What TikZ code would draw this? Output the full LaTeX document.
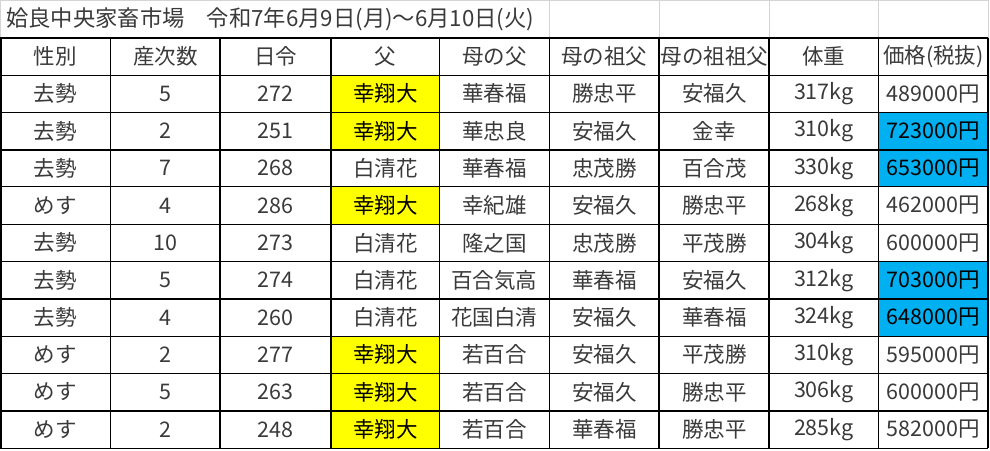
\documentclass[tikz,border=0pt]{standalone}
\usepackage{fontspec}
\setmainfont{Noto Sans CJK JP}
\definecolor{txt}{HTML}{3A3A3A}
\definecolor{ylw}{HTML}{FFFF00}
\definecolor{blu}{HTML}{00B0F0}
\definecolor{grd}{HTML}{D4D4D4}
\tikzset{
  cell/.style={inner sep=0pt, font=\fontsize{21.5}{24}\selectfont, text=txt, anchor=center},
  thinline/.style={draw=black, line width=1pt},
  thickline/.style={draw=black, line width=2pt},
  gridline/.style={draw=grd, line width=1pt},
}
\begin{document}
\begin{tikzpicture}[x=1pt,y=-1pt]
\useasboundingbox (0,0) rectangle (990,450);
\fill[white] (0,0) rectangle (990,450);
% fills
\foreach \r in {1,2,4,8,9,10}{
  \fill[ylw] (331,{37.7+\r*37.3}) rectangle (439.5,{37.7+(\r+1)*37.3});
}
\foreach \r in {2,3,6,7}{
  \fill[blu] (878.3,{37.7+\r*37.3}) rectangle (988.3,{37.7+(\r+1)*37.3});
}
% title row grid
\draw[gridline] (0,0.5) -- (988.3,0.5);
\draw[gridline] (0.5,0) -- (0.5,37.7);
\foreach \x in {549.3,659.3,769.3,878.3,988.3}{
  \draw[gridline] (\x,0) -- (\x,37.7);
}
% title
\node[cell, anchor=west, font=\fontsize{22.3}{25}\selectfont] (title) at (6,19) {姶良中央家畜市場　令和7年6月9日(月)～6月10日(火)};
% thin lines
\foreach \r in {1,2,4,5,6,8,9,11}{
  \draw[thinline] (0,{37.7+\r*37.3}) -- (988.3,{37.7+\r*37.3});
}
\foreach \x in {110.7,439.5,549.3,878.3}{
  \draw[thinline] (\x,37.7) -- (\x,448);
}
% thick lines
\foreach \r in {0,3,7,10}{
  \draw[thickline] (0,{37.7+\r*37.3}) -- (988.3,{37.7+\r*37.3});
}
\foreach \x in {1,220,331,659.3,769.3,988.3}{
  \draw[thickline] (\x,37.7) -- (\x,448);
}
% header
\foreach \c/\x/\t in {1/55.35/性別,2/165.35/産次数,3/275.5/日令,4/385.25/父,5/494.4/母の父,6/604.3/母の祖父,7/714.3/母の祖祖父,8/823.8/体重,9/933.3/価格(税抜)}{
  \node[cell] (h\c) at (\x,{37.7+0.5*37.3}) {\t};
}
% data rows
\foreach \r/\A/\B/\C/\D/\E/\F/\G/\H/\I/\fc/\pc in {
  1/去勢/5/272/幸翔大/華春福/勝忠平/安福久/317kg/489000円/black/txt,
  2/去勢/2/251/幸翔大/華忠良/安福久/金幸/310kg/723000円/black/black,
  3/去勢/7/268/白清花/華春福/忠茂勝/百合茂/330kg/653000円/txt/black,
  4/めす/4/286/幸翔大/幸紀雄/安福久/勝忠平/268kg/462000円/black/txt,
  5/去勢/10/273/白清花/隆之国/忠茂勝/平茂勝/304kg/600000円/txt/txt,
  6/去勢/5/274/白清花/百合気高/華春福/安福久/312kg/703000円/txt/black,
  7/去勢/4/260/白清花/花国白清/安福久/華春福/324kg/648000円/txt/black,
  8/めす/2/277/幸翔大/若百合/安福久/平茂勝/310kg/595000円/black/txt,
  9/めす/5/263/幸翔大/若百合/安福久/勝忠平/306kg/600000円/black/txt,
  10/めす/2/248/幸翔大/若百合/華春福/勝忠平/285kg/582000円/black/txt}{
  \pgfmathsetmacro{\yy}{37.7+(\r+0.5)*37.3}
  \node[cell] (r\r c1) at (55.35,\yy) {\A};
  \node[cell] (r\r c2) at (165.35,\yy) {\B};
  \node[cell] (r\r c3) at (275.5,\yy) {\C};
  \node[cell, text=\fc] (r\r c4) at (385.25,\yy) {\D};
  \node[cell] (r\r c5) at (494.4,\yy) {\E};
  \node[cell] (r\r c6) at (604.3,\yy) {\F};
  \node[cell] (r\r c7) at (714.3,\yy) {\G};
  \node[cell] (r\r c8) at (823.8,\yy) {\H};
  \node[cell, text=\pc] (r\r c9) at (933.3,\yy) {\I};
}
\end{tikzpicture}
\end{document}
